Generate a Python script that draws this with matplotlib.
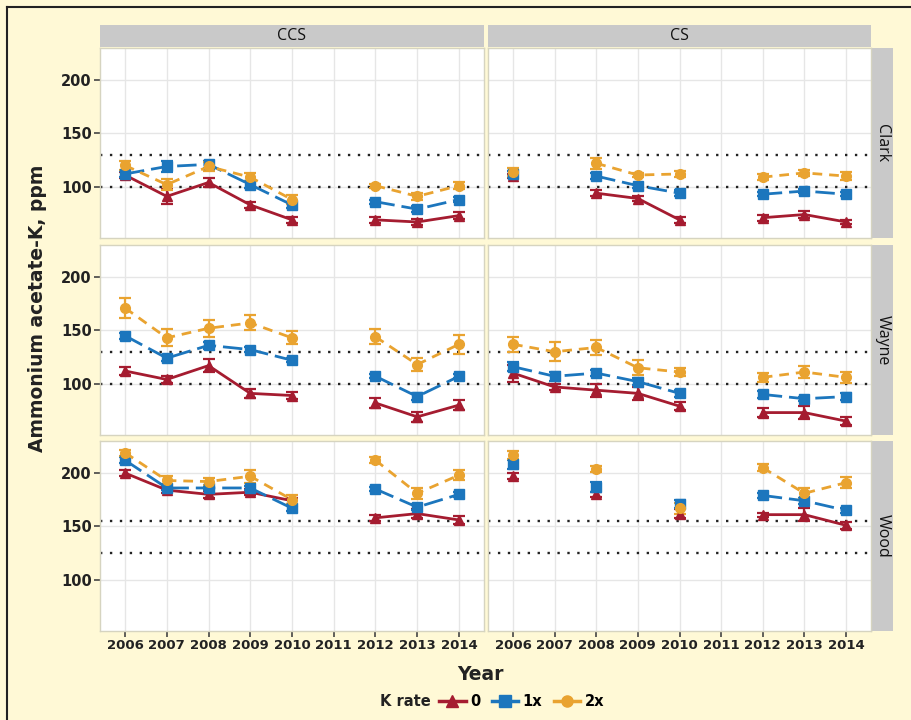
import numpy as np
import matplotlib.pyplot as plt
from matplotlib.lines import Line2D

nan = np.nan

years = [2006, 2007, 2008, 2009, 2010, 2011, 2012, 2013, 2014]
systems = ["CCS", "CS"]
sites = ["Clark", "Wayne", "Wood"]
rates = ["0", "1x", "2x"]

# mean soil test K (ppm), one list per K rate
clark_ccs = {"0":  [111, 91, 104, 83, 69, nan, 69, 67, 73],
             "1x": [112, 119, 121, 102, 83, nan, 86, 79, 88],
             "2x": [120, 102, 119, 109, 88, nan, 101, 91, 101]}
clark_cs = {"0":  [110, nan, 94, 89, 69, nan, 71, 74, 67],
            "1x": [112, nan, 110, 101, 94, nan, 93, 96, 93],
            "2x": [114, nan, 122, 111, 112, nan, 109, 113, 110]}
wayne_ccs = {"0":  [112, 104, 117, 91, 89, nan, 82, 69, 80],
             "1x": [145, 124, 136, 132, 122, nan, 107, 88, 107],
             "2x": [171, 143, 152, 157, 143, nan, 144, 118, 137]}
wayne_cs = {"0":  [110, 97, 94, 91, 79, nan, 73, 73, 65],
            "1x": [116, 107, 110, 102, 91, nan, 90, 86, 88],
            "2x": [137, 130, 134, 115, 111, nan, 106, 111, 106]}
wood_ccs = {"0":  [200, 184, 180, 182, 174, nan, 158, 162, 156],
            "1x": [212, 186, 186, 186, 167, nan, 185, 168, 180],
            "2x": [219, 193, 192, 197, 175, nan, 212, 181, 198]}
wood_cs = {"0":  [197, nan, 180, nan, 162, nan, 161, 161, 151],
           "1x": [208, nan, 187, nan, 171, nan, 179, 174, 165],
           "2x": [217, nan, 204, nan, 167, nan, 205, 181, 191]}

# standard errors
clark_ccs_err = {"0": [3, 7, 4, 3, 3, nan, 3, 3, 3],
                 "1x": [3, 5, 3, 3, 3, nan, 2, 3, 2],
                 "2x": [4, 5, 4, 4, 4, nan, 2, 3, 3]}
clark_cs_err = {"0": [2, nan, 3, 2, 3, nan, 3, 3, 2],
                "1x": [3, nan, 3, 2, 3, nan, 2, 2, 2],
                "2x": [4, nan, 5, 2, 3, nan, 3, 3, 4]}
wayne_ccs_err = {"0": [4, 3, 6, 4, 3, nan, 5, 5, 5],
                 "1x": [3, 3, 3, 2, 2, nan, 2, 3, 2],
                 "2x": [9, 8, 8, 7, 6, nan, 7, 6, 9]}
wayne_cs_err = {"0": [8, 3, 6, 6, 4, nan, 4, 6, 4],
                "1x": [4, 4, 3, 3, 3, nan, 3, 2, 3],
                "2x": [7, 9, 7, 7, 4, nan, 4, 6, 5]}
wood_ccs_err = {"0": [3, 3, 3, 3, 3, nan, 3, 4, 4],
                "1x": [3, 2, 2, 2, 3, nan, 2, 3, 2],
                "2x": [3, 4, 3, 6, 4, nan, 3, 5, 5]}
wood_cs_err = {"0": [3, nan, 2, nan, 4, nan, 2, 6, 3],
               "1x": [4, nan, 5, nan, 4, nan, 2, 3, 2],
               "2x": [4, nan, 3, nan, 5, nan, 3, 5, 5]}

# critical levels drawn as dotted lines
ref_lines = {"Clark": [100, 130], "Wayne": [100, 130], "Wood": [125, 155]}

data = {("Clark", "CCS"): (clark_ccs, clark_ccs_err), ("Clark", "CS"): (clark_cs, clark_cs_err),
        ("Wayne", "CCS"): (wayne_ccs, wayne_ccs_err), ("Wayne", "CS"): (wayne_cs, wayne_cs_err),
        ("Wood", "CCS"): (wood_ccs, wood_ccs_err), ("Wood", "CS"): (wood_cs, wood_cs_err)}

colors = {"0": "#A51C30", "1x": "#1C76BD", "2x": "#E9A330"}
markers = {"0": "^", "1x": "s", "2x": "o"}
dashes = {"0": None, "1x": (7, 2.5), "2x": (3.5, 2.5)}

bg = "#FFF9D6"
W, H = 912, 720
fig = plt.figure(figsize=(W / 100, H / 100), dpi=100, facecolor=bg)


def fx(px):
    return px / W


def fy(py):
    return 1 - py / H


col_x = [(100, 484), (488, 871)]
row_y = [(48, 238), (245, 435), (441, 631)]

for c, (x0, x1) in enumerate(col_x):
    # top strip
    sax = fig.add_axes([fx(x0), fy(47), fx(x1 - x0), (47 - 25) / H])
    sax.set_facecolor("#C9C9C9")
    sax.set_xticks([]); sax.set_yticks([])
    for s in sax.spines.values():
        s.set_visible(False)
    sax.text(0.5, 0.5, systems[c], ha="center", va="center", fontsize=11.5,
             color="#111111", family="Open Sans")

for r, (y0, y1) in enumerate(row_y):
    rax = fig.add_axes([fx(872), fy(y1), fx(893 - 872), (y1 - y0) / H])
    rax.set_facecolor("#C9C9C9")
    rax.set_xticks([]); rax.set_yticks([])
    for s in rax.spines.values():
        s.set_visible(False)
    rax.text(0.5, 0.5, sites[r], ha="center", va="center", rotation=-90,
             fontsize=11.5, color="#111111", family="Open Sans")

    for c, (x0, x1) in enumerate(col_x):
        ax = fig.add_axes([fx(x0), fy(y1), fx(x1 - x0), (y1 - y0) / H])
        ax.set_facecolor("white")
        vals, errs = data[(sites[r], systems[c])]
        ax.set_xlim(2005.4, 2014.6)
        ax.set_ylim(52, 230)
        ax.set_xticks(years)
        ax.set_yticks([100, 150, 200])
        ax.grid(True, color="#E6E6E6", lw=1)
        ax.set_axisbelow(True)
        for s in ax.spines.values():
            s.set_color("#D6D4C0")
            s.set_linewidth(1)
        for yv in ref_lines[sites[r]]:
            ax.axhline(yv, color="#222222", lw=1.7, ls=(0, (1, 3.2)), zorder=2)
        for k in rates:
            yv = np.array(vals[k], dtype=float)
            ev = np.array(errs[k], dtype=float)
            ax.errorbar(years, yv, yerr=ev, fmt="none", ecolor=colors[k],
                        elinewidth=1.6, capsize=4, capthick=1.6, zorder=3)
            ln, = ax.plot(years, yv, color=colors[k], lw=2, marker=markers[k],
                          ms=7, zorder=4)
            if dashes[k] is not None:
                ln.set_dashes(dashes[k])
        ax.tick_params(axis="both", length=4, width=1.2, color="#444444",
                       labelsize=9.5, labelcolor="#222222", pad=2)
        if c == 0:
            for t in ax.get_yticklabels():
                t.set_fontweight("bold")
                t.set_fontsize(10.5)
        else:
            ax.tick_params(axis="y", left=False, labelleft=False)
        if r == 2:
            for t in ax.get_xticklabels():
                t.set_fontweight("bold")
        else:
            ax.tick_params(axis="x", bottom=False, labelbottom=False)

fig.text(fx(38), fy(308), "Ammonium acetate-K, ppm", rotation=90, ha="center",
         va="center", fontsize=13.5, fontweight="bold", color="#222222")
fig.text(fx(480), fy(675), "Year", ha="center", va="center", fontsize=13.5,
         fontweight="bold", color="#222222")

fig.text(fx(405), fy(702), "K rate", ha="center", va="center", fontsize=10.5,
         fontweight="bold", color="#222222")
handles = []
for k in rates:
    h = Line2D([0], [0], color=colors[k], lw=2.5, marker=markers[k], ms=8)
    handles.append(h)
fig.legend(handles, rates, loc="center left", bbox_to_anchor=(fx(432), fy(702)),
           ncol=3, frameon=False, handlelength=1.8, handletextpad=0.3,
           columnspacing=0.8, borderpad=0, prop={"weight": "bold", "size": 10.5})

# frame edges visible on the left and top
fig.add_artist(Line2D([fx(7), fx(7)], [0, fy(7)], color="#222222", lw=1.5))
fig.add_artist(Line2D([fx(7), 1], [fy(7), fy(7)], color="#222222", lw=1.5))

fig.savefig("out.png", dpi=100, facecolor=bg)
